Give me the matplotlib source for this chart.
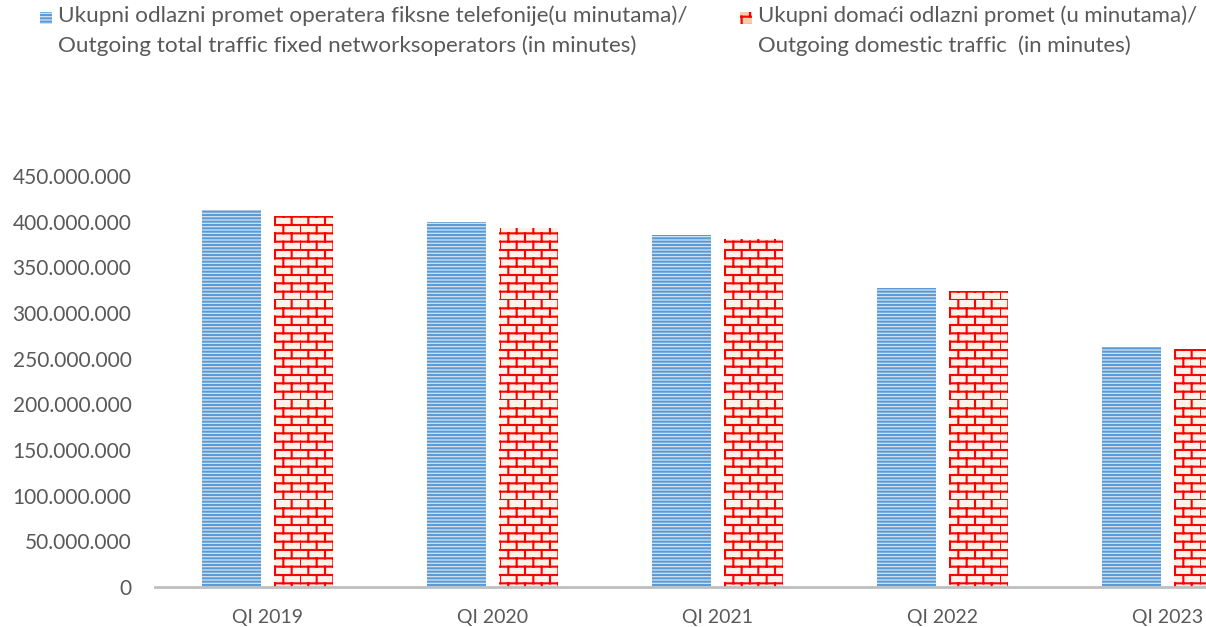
import matplotlib
matplotlib.use('Agg')
import matplotlib.pyplot as plt
import matplotlib.hatch as mhatch
from matplotlib.path import Path
from matplotlib.patches import Rectangle
from matplotlib.ticker import FuncFormatter, MultipleLocator
import numpy as np

# data
categories = ['QI 2019', 'QI 2020', 'QI 2021', 'QI 2022', 'QI 2023']
total_traffic = [412.8e6, 399.6e6, 385.4e6, 327.4e6, 262.8e6]
domestic_traffic = [406.2e6, 393.1e6, 381.0e6, 324.1e6, 260.6e6]
labels = ['Ukupni odlazni promet operatera fiksne telefonije(u minutama)/\nOutgoing total traffic fixed networksoperators (in minutes)',
          'Ukupni domaći odlazni promet (u minutama)/\nOutgoing domestic traffic  (in minutes)']


# brick pattern for hatch 'x' (no other hatch with x is used here)
class BrickHatch(mhatch.HatchPatternBase):
    def __init__(self, hatch, density):
        self.rows = 12 if 'x' in hatch else 0
        self.cols = 6
        self.num_vertices = self.rows * 2 * (1 + self.cols)

    def set_vertices_and_codes(self, vertices, codes):
        segs = []
        for i in range(self.rows):
            y0 = i / self.rows
            y1 = (i + 1) / self.rows
            segs.append(((0, y0), (1, y0)))
            off = 0.5 / self.cols if i % 2 else 0
            for j in range(self.cols):
                x = j / self.cols + off
                segs.append(((x, y0), (x, y1)))
        vertices[:] = np.array(segs).reshape(-1, 2)
        codes[0::2] = Path.MOVETO
        codes[1::2] = Path.LINETO


mhatch._hatch_types = [mhatch.HorizontalHatch, BrickHatch]

plt.rcParams['font.family'] = ['Lato', 'DejaVu Sans']
plt.rcParams['hatch.linewidth'] = 1.5
txt_color = '#595959'

fig = plt.figure(figsize=(12.06, 6.27), dpi=100)
ax = fig.add_axes([155 / 1206, 40 / 627, 1125 / 1206, 411 / 627])

x = np.arange(len(categories))
w = 0.262
ax.bar(x - 0.16, total_traffic, w, color='#d3e3f4', edgecolor='#5b9bd5',
       linewidth=0, hatch='-----')
ax.bar(x + 0.16, domestic_traffic, w, color='#fef1e8', edgecolor='#ff0000',
       linewidth=0, hatch='x')

ax.set_xlim(-0.5, 4.5)
ax.set_ylim(0, 450e6)
ax.yaxis.set_major_locator(MultipleLocator(50e6))
ax.yaxis.set_major_formatter(FuncFormatter(lambda v, p: f'{int(v):,}'.replace(',', '.')))
ax.set_xticks(x)
ax.set_xticklabels(categories)

for s in ['top', 'right', 'left']:
    ax.spines[s].set_visible(False)
ax.spines['bottom'].set_color('#bfbfbf')
ax.spines['bottom'].set_linewidth(2)
ax.tick_params(axis='both', length=0, colors=txt_color)
ax.tick_params(axis='y', pad=17, labelsize=15)
ax.tick_params(axis='x', pad=16, labelsize=14)

# legend drawn by hand
fig.patches.append(Rectangle((40 / 1206, 1 - 24 / 627), 12 / 1206, 12 / 627, transform=fig.transFigure,
                             facecolor='#d3e3f4', edgecolor='#5b9bd5', linewidth=0, hatch='-----'))
fig.patches.append(Rectangle((740 / 1206, 1 - 24 / 627), 12 / 1206, 12 / 627, transform=fig.transFigure,
                             facecolor='#f8cbad', edgecolor='#ff0000', linewidth=0, hatch='x'))
fig.text(58 / 1206, 1 - 5 / 627, labels[0], va='top', ha='left', fontsize=16.2,
         color=txt_color, linespacing=1.6)
fig.text(758 / 1206, 1 - 5 / 627, labels[1], va='top', ha='left', fontsize=15.9,
         color=txt_color, linespacing=1.62)

fig.savefig('out.png', dpi=100)
